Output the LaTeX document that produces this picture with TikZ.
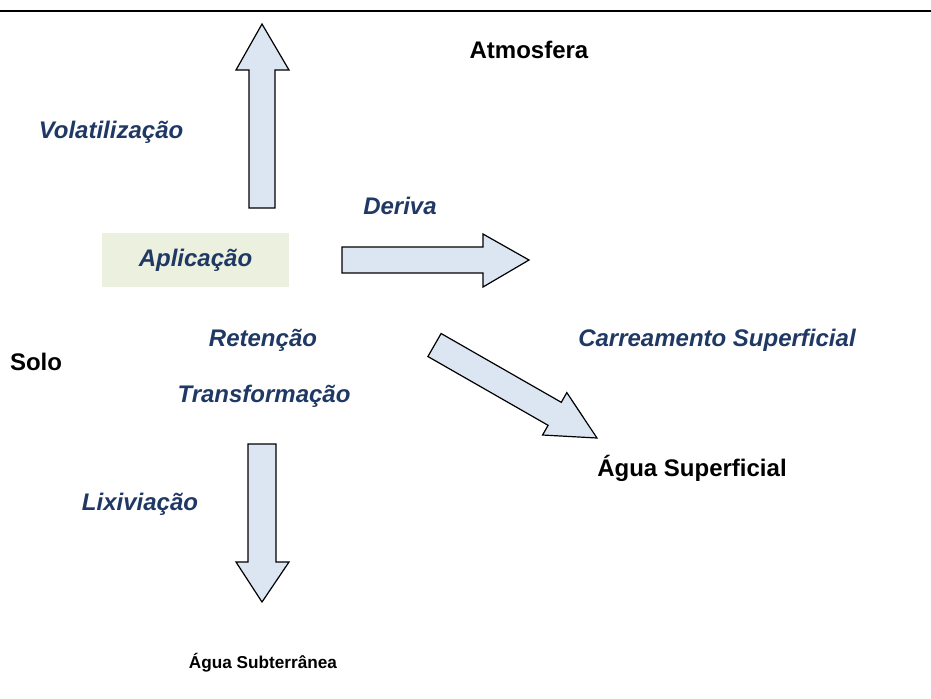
\documentclass[tikz,border=0pt]{standalone}
\usepackage{fontspec}
\setmainfont{Liberation Sans}
\usepackage{tikz}
\usetikzlibrary{positioning}

\definecolor{procblue}{HTML}{1F3864}
\definecolor{arrowfill}{HTML}{DCE6F2}
\definecolor{boxgreen}{HTML}{EBF1DE}

\begin{document}
\begin{tikzpicture}[x=0.5pt,y=-0.5pt,
  place/.style={font=\fontsize{12}{14}\selectfont\bfseries,text=black,inner sep=0pt,anchor=base},
  process/.style={font=\fontsize{12}{14}\selectfont\bfseries\itshape,text=procblue,inner sep=0pt,anchor=base},
  flow/.style={draw=black,fill=arrowfill,line width=0.6pt,line join=miter}]

\useasboundingbox (0,0) rectangle (931,698);

\draw[line width=1pt] (0,10.5) -- (931,10.5);

% compartments
\node[place] (atm)  at (529,58)  {Atmosfera};
\node[place] (solo) at (36,370)  {Solo};
\node[place] (sup)  at (692,476) {Água Superficial};
\node[place,font=\fontsize{8.6}{10}\selectfont\bfseries] (sub) at (263,668) {Água Subterrânea};

% processes
\node[process,anchor=center,fill=boxgreen,minimum width=93.5pt,minimum height=27pt] (apl) at (195.5,260) {Aplicação};
\node[process] (vol) at (111,138) {Volatilização};
\node[process] (der) at (400,214) {Deriva};
\node[process] (ret) at (263,346) {Retenção};
\node[process] (tra) at (264,402) {Transformação};
\node[process] (car) at (717,346) {Carreamento Superficial};
\node[process] (lix) at (140,510) {Lixiviação};

% block arrows
\draw[flow] (249,208) -- (249,70) -- (236,70) -- (262,24) -- (289,70) -- (275,70) -- (275,208) -- cycle;
\draw[flow] (342,247) -- (483,247) -- (483,234) -- (529,260) -- (483,287) -- (483,273) -- (342,273) -- cycle;
\draw[flow] (441.1,333.5) -- (561.3,402.3) -- (566.8,392.6) -- (597,438) -- (542.6,435.0) -- (548.1,425.3) -- (427.9,356.5) -- cycle;
\draw[flow] (248,444) -- (276,444) -- (276,562) -- (289,562) -- (262,602) -- (236,562) -- (248,562) -- cycle;

\end{tikzpicture}
\end{document}
